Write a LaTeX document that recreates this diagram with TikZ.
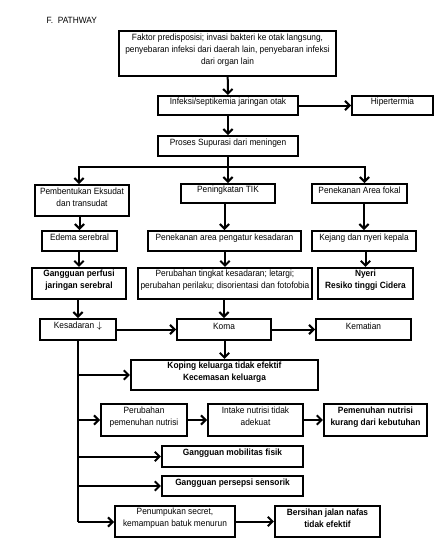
\documentclass[tikz,border=0pt]{standalone}
\usepackage{fontspec}
\setmainfont[FakeStretch=0.92]{Liberation Sans}
\usetikzlibrary{fit,arrows.meta,calc}
\newcommand\fs{\fontsize{6.8}{9}\selectfont}
\begin{document}
\begin{tikzpicture}[x=0.75pt,y=-0.75pt,
  bx/.style={draw, line width=1.4pt, inner sep=0pt, align=center, font=\fs},
  bxb/.style={bx, line width=1.7pt, font=\fs\bfseries},
  bxk/.style={bx, line width=1.7pt},
  arr/.style={line width=1.5pt, -{Straight Barb[length=3.5pt,width=7pt]}},
  ln/.style={line width=1.5pt}]
\useasboundingbox (0,0) rectangle (442,550);
\node[anchor=base west, font=\fs] (title) at (42,23) {F.\ \ PATHWAY};
\node[bxk, fit={(119,31)(336,76)}] (b1) {Faktor predisposisi; invasi bakteri ke otak langsung,\\ penyebaran infeksi dari daerah lain, penyebaran infeksi\\ dari organ lain};
\node[bx, fit={(158,96)(298,115)}] (b2) {Infeksi/septikemia jaringan otak};
\node[bx, fit={(352,96)(433,115)}] (hip) {Hipertermia};
\node[bx, fit={(158,136)(298,156)}] (b3) {Proses Supurasi dari meningen};
\node[bx, fit={(35,185)(129,216)}] (b4a) {Pembentukan Eksudat\\ dan transudat};
\node[bx, fit={(181,184)(275,203)}] (b4b) {Peningkatan TIK};
\node[bx, fit={(312,184)(407,203)}] (b4c) {Penekanan Area fokal};
\node[bx, fit={(42,231)(117,251)}] (b5a) {Edema serebral};
\node[bx, fit={(148,231)(301,251)}] (b5b) {Penekanan area pengatur kesadaran};
\node[bx, fit={(312,231)(416,251)}] (b5c) {Kejang dan nyeri kepala};
\node[bxb, fit={(32,268)(126,299)}] (b6a) {Gangguan perfusi\\ jaringan serebral};
\node[bxk, fit={(138,268)(312,299)}] (b6b) {Perubahan tingkat kesadaran; letargi;\\ perubahan perilaku; disorientasi dan fotofobia};
\node[bxb, fit={(318,268)(413,299)}] (b6c) {Nyeri\\ Resiko tinggi Cidera};
\node[bx, fit={(40,319)(116,340)}] (b7a) {Kesadaran $\downarrow$};
\node[bx, fit={(177,319)(271,340)}] (b7b) {Koma};
\node[bx, fit={(316,319)(411,340)}] (b7c) {Kematian};
\node[bxb, fit={(131,360)(318,390)}] (b8) {Koping keluarga tidak efektif\\ Kecemasan keluarga};
\node[bx, fit={(101,404)(187,436)}] (b9a) {Perubahan\\ pemenuhan nutrisi};
\node[bx, fit={(208,404)(303,436)}] (b9b) {Intake nutrisi tidak\\ adekuat};
\node[bxb, fit={(324,404)(427,436)}] (b9c) {Pemenuhan nutrisi\\ kurang dari kebutuhan};
\node[bxb, fit={(162,446)(303,467)}] (b10) {Gangguan mobilitas fisik};
\node[bxb, fit={(162,476)(303,496)}] (b11) {Gangguan persepsi sensorik};
\node[bx, fit={(115,506)(235,537)}] (b12) {Penumpukan secret,\\ kemampuan batuk menurun};
\node[bxb, fit={(275,506)(380,537)}] (b13) {Bersihan jalan nafas\\ tidak efektif};
% connectors
\draw[arr] (b1) -- (b2);
\draw[arr] (b2) -- (hip);
\draw[arr] (b2) -- (b3);
\coordinate (sp) at (228,167);
\draw[ln] (b3.south) -- (sp);
\draw[arr] (sp) -| ($(b4a.north)+(-3,0)$);
\draw[arr] (sp) -| ($(b4c.north)+(5,0)$);
\draw[arr] (b3) -- (b4b);
\draw[arr] (b5a.north |- b4a.south) -- (b5a.north);
\draw[arr] (b4b.south -| b5b) -- (b5b.north);
\draw[arr] (b4c.south -| 364,0) -- (b5c.north -| 364,0);
\draw[arr] (b5a.south -| b6a) -- (b6a.north);
\draw[arr] (b5b.south -| b6b) -- (b6b.north);
\draw[arr] (b5c.south -| b6c) -- (b6c.north);
\draw[arr] (b6a.south -| b7a) -- (b7a.north);
\draw[arr] (b6b.south -| b7b) -- (b7b.north);
\draw[arr] (b7a) -- (b7b);
\draw[arr] (b7b) -- (b7c);
\draw[arr] (b7b.south -| b8) -- (b8.north);
\coordinate (tr) at (78,522);
\draw[ln] (b7a.south -| tr) -- (tr);
\draw[arr] (b8.west -| tr) -- (b8.west);
\draw[arr] (b9a.west -| tr) -- (b9a.west);
\draw[arr] (b10.west -| tr) -- (b10.west);
\draw[arr] (b11.west -| tr) -- (b11.west);
\draw[arr] (tr) -- (b12.west |- tr);
\draw[arr] (b9a) -- (b9b);
\draw[arr] (b9b) -- (b9c);
\draw[arr] (b12) -- (b13);
\end{tikzpicture}
\end{document}
